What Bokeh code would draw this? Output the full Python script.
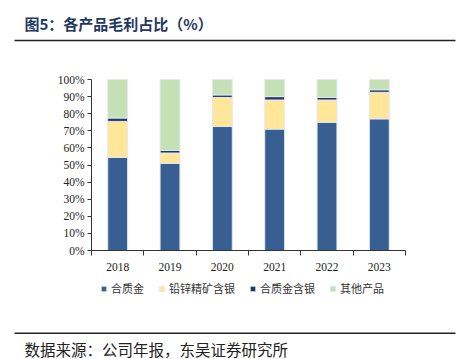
from bokeh.plotting import figure
from bokeh.models import FixedTicker, Legend, LegendItem, Range1d, ColumnDataSource, Label, BoxAnnotation
from bokeh.embed import file_html
from bokeh.resources import INLINE

years = ["2018", "2019", "2020", "2021", "2022", "2023"]
series_names = ["合质金", "铅锌精矿含银", "合质金含银", "其他产品"]
gold = [54.5, 51.0, 72.5, 71.0, 75.0, 77.0]
lead_zinc_silver = [21.0, 6.0, 17.0, 17.0, 13.0, 15.5]
gold_silver = [2.0, 1.5, 1.5, 2.0, 1.5, 1.5]
other = [22.5, 41.5, 9.0, 10.0, 10.5, 6.0]
y_ticks = [0, 10, 20, 30, 40, 50, 60, 70, 80, 90, 100]

title_text = "图5：各产品毛利占比（%）"
source_text = "数据来源：公司年报，东吴证券研究所"

colors = ["#375F91", "#FFE699", "#1F3864", "#C5E0B4"]
CJK = "Noto Sans CJK SC"
SERIF = "Liberation Serif"
W, H = 462, 359

# plot area (in canvas pixels) that the axes occupy; the frame spans the whole canvas
AX_L, AX_R, AX_T, AX_B = 91, 405, 79, 250
n = len(years)
px_per_x = (AX_R - AX_L) / n
px_per_y = (AX_B - AX_T) / 100.0
x_range = Range1d(-AX_L / px_per_x, n + (W - AX_R) / px_per_x)
y_range = Range1d(-(H - AX_B) / px_per_y, 100 + AX_T / px_per_y)

xs = [i + 0.5 for i in range(n)]
src = ColumnDataSource(dict(x=xs, gold=gold, lzs=lead_zinc_silver, gs=gold_silver, other=other))

p = figure(width=W, height=H, output_backend="svg", toolbar_location=None,
           x_range=x_range, y_range=y_range,
           min_border=0, min_border_left=0, min_border_right=0,
           min_border_top=0, min_border_bottom=0)
p.outline_line_color = None
p.grid.visible = False

rs = p.vbar_stack(["gold", "lzs", "gs", "other"], x="x", width=0.38, source=src,
                  color=colors, line_color="#E3E9F1", line_width=1)

xax = p.xaxis[0]
xax.fixed_location = 0
xax.bounds = (0, n)
xax.ticker = FixedTicker(ticks=xs, minor_ticks=list(range(n + 1)))
xax.major_label_overrides = {x: y for x, y in zip(xs, years)}
xax.major_tick_out = 0
xax.major_tick_in = 0
xax.minor_tick_out = 5
xax.minor_tick_in = 0
xax.minor_tick_line_color = "#333333"
xax.axis_line_color = "#333333"
xax.major_label_text_font = SERIF
xax.major_label_text_font_size = "11.5px"
xax.major_label_text_color = "#222222"
xax.major_label_standoff = 7

yax = p.yaxis[0]
yax.fixed_location = 0
yax.bounds = (0, 100)
yax.ticker = FixedTicker(ticks=y_ticks, minor_ticks=[])
yax.major_label_overrides = {t: f"{t}%" for t in y_ticks}
yax.major_tick_out = 4
yax.major_tick_in = 0
yax.major_tick_line_color = "#333333"
yax.axis_line_color = "#333333"
yax.major_label_text_font = SERIF
yax.major_label_text_font_size = "11.5px"
yax.major_label_text_color = "#222222"
yax.major_label_standoff = 3

# legend: location is the bottom-left corner, in pixels from the frame's bottom-left
legend = Legend(items=[LegendItem(label=nm, renderers=[r]) for nm, r in zip(series_names, rs)],
                orientation="horizontal", location=(100, H - 296),
                glyph_width=7, glyph_height=7, label_standoff=4, spacing=14,
                padding=0, margin=0, border_line_color=None, background_fill_alpha=0,
                label_text_font=CJK, label_text_font_size="11px", label_text_color="#333333",
                label_height=12)
p.add_layout(legend)

# title, rules and source (screen units: from the bottom-left of the canvas-wide frame)
p.add_layout(Label(x=24, y=H - 23, x_units="screen", y_units="screen", text=title_text,
                   text_font=CJK, text_font_size="15px", text_font_style="bold",
                   text_color="#1F3864", text_baseline="middle", text_align="left"))
p.add_layout(BoxAnnotation(left=14, right=455, top=H - 39.3, bottom=H - 40.8,
                           left_units="screen", right_units="screen",
                           top_units="screen", bottom_units="screen",
                           fill_color="#222222", fill_alpha=1, line_color=None))
p.add_layout(BoxAnnotation(left=14, right=455, top=H - 332, bottom=H - 333.5,
                           left_units="screen", right_units="screen",
                           top_units="screen", bottom_units="screen",
                           fill_color="#222222", fill_alpha=1, line_color=None))
p.add_layout(Label(x=24, y=H - 348, x_units="screen", y_units="screen", text=source_text,
                   text_font=CJK, text_font_size="15.5px",
                   text_color="#222222", text_baseline="middle", text_align="left"))

open("out.html", "w").write(file_html(p, INLINE))
